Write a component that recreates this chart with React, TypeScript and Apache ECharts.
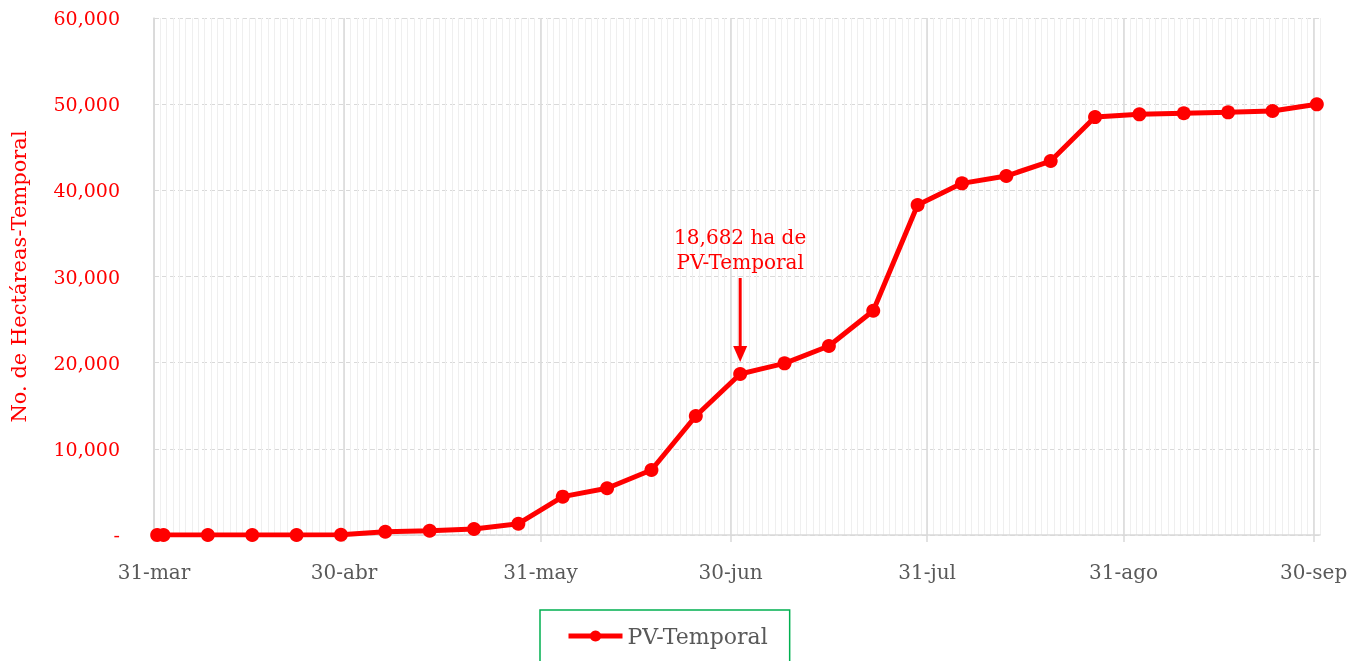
import React, { useEffect, useRef } from "react";
import * as echarts from "echarts";

// Dates (MM-DD) of each reading and hectares accumulated (PV-Temporal)
const dates = [
  "03-31", "04-01", "04-08", "04-15", "04-22", "04-29", "05-06", "05-13",
  "05-20", "05-27", "06-03", "06-10", "06-17", "06-24", "07-01", "07-08",
  "07-15", "07-22", "07-29", "08-05", "08-12", "08-19", "08-26", "09-02",
  "09-09", "09-16", "09-23", "09-30",
];
const hectares = [
  0, 0, 0, 0, 0, 30, 380, 500,
  700, 1310, 4450, 5420, 7540, 13810, 18682, 19920,
  21930, 26030, 38300, 40810, 41660, 43400, 48500, 48820,
  48940, 49050, 49200, 49980,
];
// Month-end tick dates and their labels
const tickDates = ["03-31", "04-30", "05-31", "06-30", "07-31", "08-31", "09-30"];
const tickLabels = ["31-mar", "30-abr", "31-may", "30-jun", "31-jul", "31-ago", "30-sep"];
const seriesName = "PV-Temporal";
const annotatedDate = "07-01";
const yTicks = [0, 10000, 20000, 30000, 40000, 50000, 60000];

const START = "03-31";
const TOTAL_DAYS = 184; // 31-mar .. 30-sep, inclusive

function dayIndex(md: string): number {
  const [m, d] = md.split("-").map(Number);
  const [m0, d0] = START.split("-").map(Number);
  const t = Date.UTC(2023, m - 1, d);
  const t0 = Date.UTC(2023, m0 - 1, d0);
  return Math.round((t - t0) / 86400000);
}

const FONT = "DejaVu Serif";

export default function App() {
  const ref = useRef<HTMLDivElement>(null);
  useEffect(() => {
    if (!ref.current) return;
    const chart = echarts.init(ref.current, undefined, { renderer: "svg" });
    const tickIdx = tickDates.map(dayIndex);
    const tickMap = new Map<number, string>();
    tickIdx.forEach((d, i) => tickMap.set(d, tickLabels[i]));
    const dayCats = Array.from({ length: TOTAL_DAYS + 1 }, (_, i) => String(i));
    // each reading sits in the middle of its day
    const points = dates.map((d, i) => [dayIndex(d) + 0.5, hectares[i]]);
    const fmt = (v: number) => (v === 0 ? "-" : v.toLocaleString("en-US"));

    chart.setOption({
      animation: false,
      textStyle: { fontFamily: FONT },
      grid: { left: 154, right: 41, top: 18, bottom: 126 },
      xAxis: [
        {
          type: "value",
          min: 0,
          max: TOTAL_DAYS,
          interval: 1,
          axisLine: { show: false },
          axisTick: { show: false },
          axisLabel: { show: false },
          splitLine: { show: true, lineStyle: { color: "#efefef", width: 1 } },
        },
        {
          type: "category",
          data: dayCats,
          boundaryGap: false,
          position: "bottom",
          axisLine: { show: true, lineStyle: { color: "#d9d9d9", width: 1.5 } },
          axisTick: {
            show: true,
            length: 7,
            interval: (i: number) => tickMap.has(i),
            lineStyle: { color: "#d9d9d9", width: 1.5 },
          },
          axisLabel: {
            show: true,
            interval: (i: number) => tickMap.has(i),
            formatter: (v: string) => tickMap.get(Number(v)) ?? "",
            color: "#595959",
            fontSize: 20,
            fontFamily: FONT,
            margin: 27,
          },
          splitLine: {
            show: true,
            interval: (i: number) => tickMap.has(i),
            lineStyle: { color: "#d9d9d9", width: 1.5 },
          },
        },
      ],
      yAxis: {
        type: "value",
        min: yTicks[0],
        max: yTicks[yTicks.length - 1],
        interval: yTicks[1] - yTicks[0],
        axisLine: { show: true, lineStyle: { color: "#d9d9d9", width: 1.5 } },
        axisTick: { show: false },
        axisLabel: {
          color: "#ff0000",
          fontSize: 19,
          fontFamily: FONT,
          margin: 34,
          formatter: fmt,
        },
        splitLine: {
          show: true,
          lineStyle: { color: "#d9d9d9", width: 1.2, type: [5, 3] },
        },
        name: "No. de Hectáreas-Temporal",
        nameLocation: "middle",
        nameGap: 125,
        nameTextStyle: { color: "#ff0000", fontSize: 21, fontFamily: FONT },
      },
      legend: {
        show: true,
        left: 540,
        top: 610,
        data: [seriesName],
        borderColor: "#00b050",
        borderWidth: 1.5,
        padding: [15, 22, 40, 26],
        itemWidth: 54,
        itemHeight: 14,
        lineStyle: { width: 5 },
        textStyle: { color: "#595959", fontSize: 22, fontFamily: FONT },
      },
      series: [
        {
          name: seriesName,
          type: "line",
          xAxisIndex: 0,
          data: points,
          symbol: "circle",
          symbolSize: 14,
          lineStyle: { color: "#ff0000", width: 5 },
          itemStyle: { color: "#ff0000" },
          z: 5,
        },
      ],
    });

    const ai = dates.indexOf(annotatedDate);
    const [px, py] = chart.convertToPixel({ xAxisIndex: 0, yAxisIndex: 0 }, [
      dayIndex(annotatedDate) + 0.5,
      hectares[ai],
    ]) as number[];
    chart.setOption({
      graphic: [
        {
          type: "text",
          x: px,
          y: py - 125,
          style: {
            text: `${hectares[ai].toLocaleString("en-US")} ha de\n${seriesName}`,
            fill: "#ff0000",
            fontSize: 20,
            fontFamily: FONT,
            align: "center",
            verticalAlign: "middle",
            lineHeight: 25,
          },
        },
        {
          type: "line",
          shape: { x1: px, y1: py - 96, x2: px, y2: py - 28 },
          style: { stroke: "#ff0000", lineWidth: 3 },
        },
        {
          type: "polygon",
          shape: {
            points: [
              [px - 7, py - 28],
              [px + 7, py - 28],
              [px, py - 12],
            ],
          },
          style: { fill: "#ff0000" },
        },
      ],
    });

    return () => chart.dispose();
  }, []);
  return (
    <div
      ref={ref}
      style={{ position: "fixed", left: 0, top: 0, width: 1361, height: 661 }}
    />
  );
}
